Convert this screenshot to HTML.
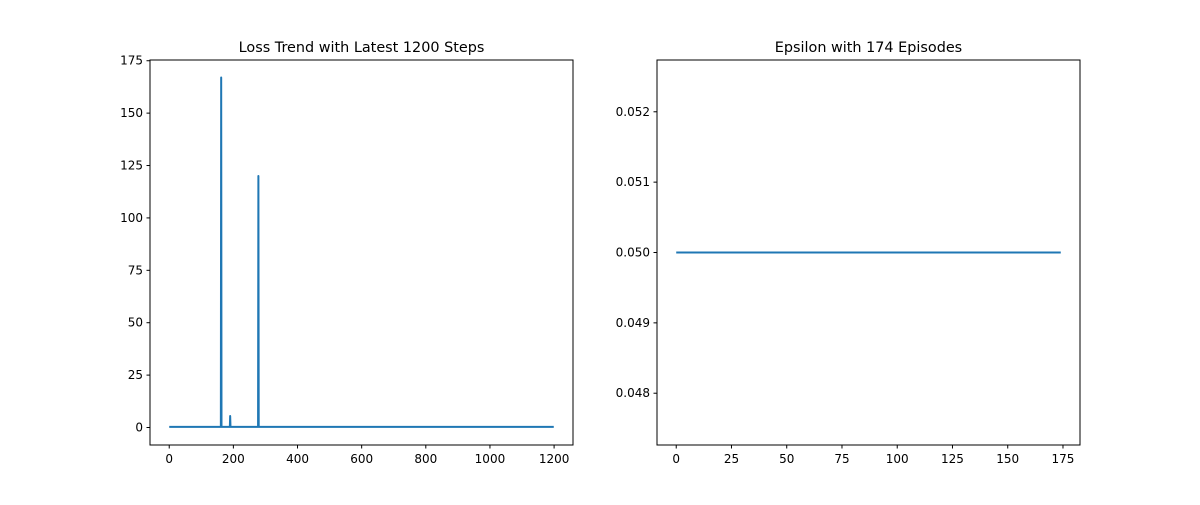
<!DOCTYPE html>
<html><head><meta charset="utf-8"><style>
body{margin:0;background:#fff;}
svg text{font-family:"DejaVu Sans","Liberation Sans",sans-serif;font-size:12px;fill:#000;}
</style></head><body>
<svg id="c" width="1200" height="500" xmlns="http://www.w3.org/2000/svg"></svg>
<script>
const lossSteps=[0,161,162,163,189,190,191,277,278,279,1199];
const lossValues=[0.3,0.3,167,0.3,0.3,5.5,0.3,0.3,120,0.3,0.3];
const lossXTicks=[0,200,400,600,800,1000,1200];
const lossYTicks=[0,25,50,75,100,125,150,175];
const epsEpisodes=[0,174];
const epsValues=[0.05,0.05];
const epsXTicks=[0,25,50,75,100,125,150,175];
const epsYTicks=[0.048,0.049,0.050,0.051,0.052];
const NS="http://www.w3.org/2000/svg";
const svg=document.getElementById('c');
function mk(t,a,p){const e=document.createElementNS(NS,t);for(const k in a)e.setAttribute(k,a[k]);(p||svg).appendChild(e);return e;}
function panel(name,L,T,W,H,xmin,xmax,ymin,ymax,xs,ys,xt,yt,fmtY,title){
  const g=mk('g',{});
  
  
  const sx=v=>L+(v-xmin)/(xmax-xmin)*W, sy=v=>T+H-(v-ymin)/(ymax-ymin)*H;
  const pts=xs.map((x,i)=>sx(x).toFixed(2)+','+sy(ys[i]).toFixed(2)).join(' ');
  const line=mk('polyline',{points:pts,fill:'none',stroke:'#1f77b4','stroke-width':2,'stroke-linejoin':'round'},g);
  
  
  const fr=mk('rect',{x:L,y:T,width:W,height:H,fill:'none',stroke:'#000','stroke-width':1},g);
  
  
  xt.forEach(v=>{const x=sx(v);mk('line',{x1:x,x2:x,y1:T+H,y2:T+H+3.5,stroke:'#000'},g);
    const t=mk('text',{x:x,y:T+H+18,'text-anchor':'middle'},g);t.textContent=v;
    
    });
  yt.forEach(v=>{const y=sy(v);mk('line',{x1:L-3.5,x2:L,y1:y,y2:y,stroke:'#000'},g);
    const t=mk('text',{x:L-7,y:y+4,'text-anchor':'end'},g);t.textContent=fmtY(v);
    
    });
  const tt=mk('text',{x:L+W/2,y:T-8,'text-anchor':'middle',style:'font-size:14.4px'},g);tt.textContent=title;
  
  
}
panel('loss-chart',150,60,423,385,-59.95,1258.95,-8.35,175.35,lossSteps,lossValues,lossXTicks,lossYTicks,v=>v,'Loss Trend with Latest 1200 Steps');
panel('epsilon-chart',657,60,423,385,-8.7,182.7,0.047264,0.052736,epsEpisodes,epsValues,epsXTicks,epsYTicks,v=>v.toFixed(3),'Epsilon with 174 Episodes');
</script>
</body></html>
